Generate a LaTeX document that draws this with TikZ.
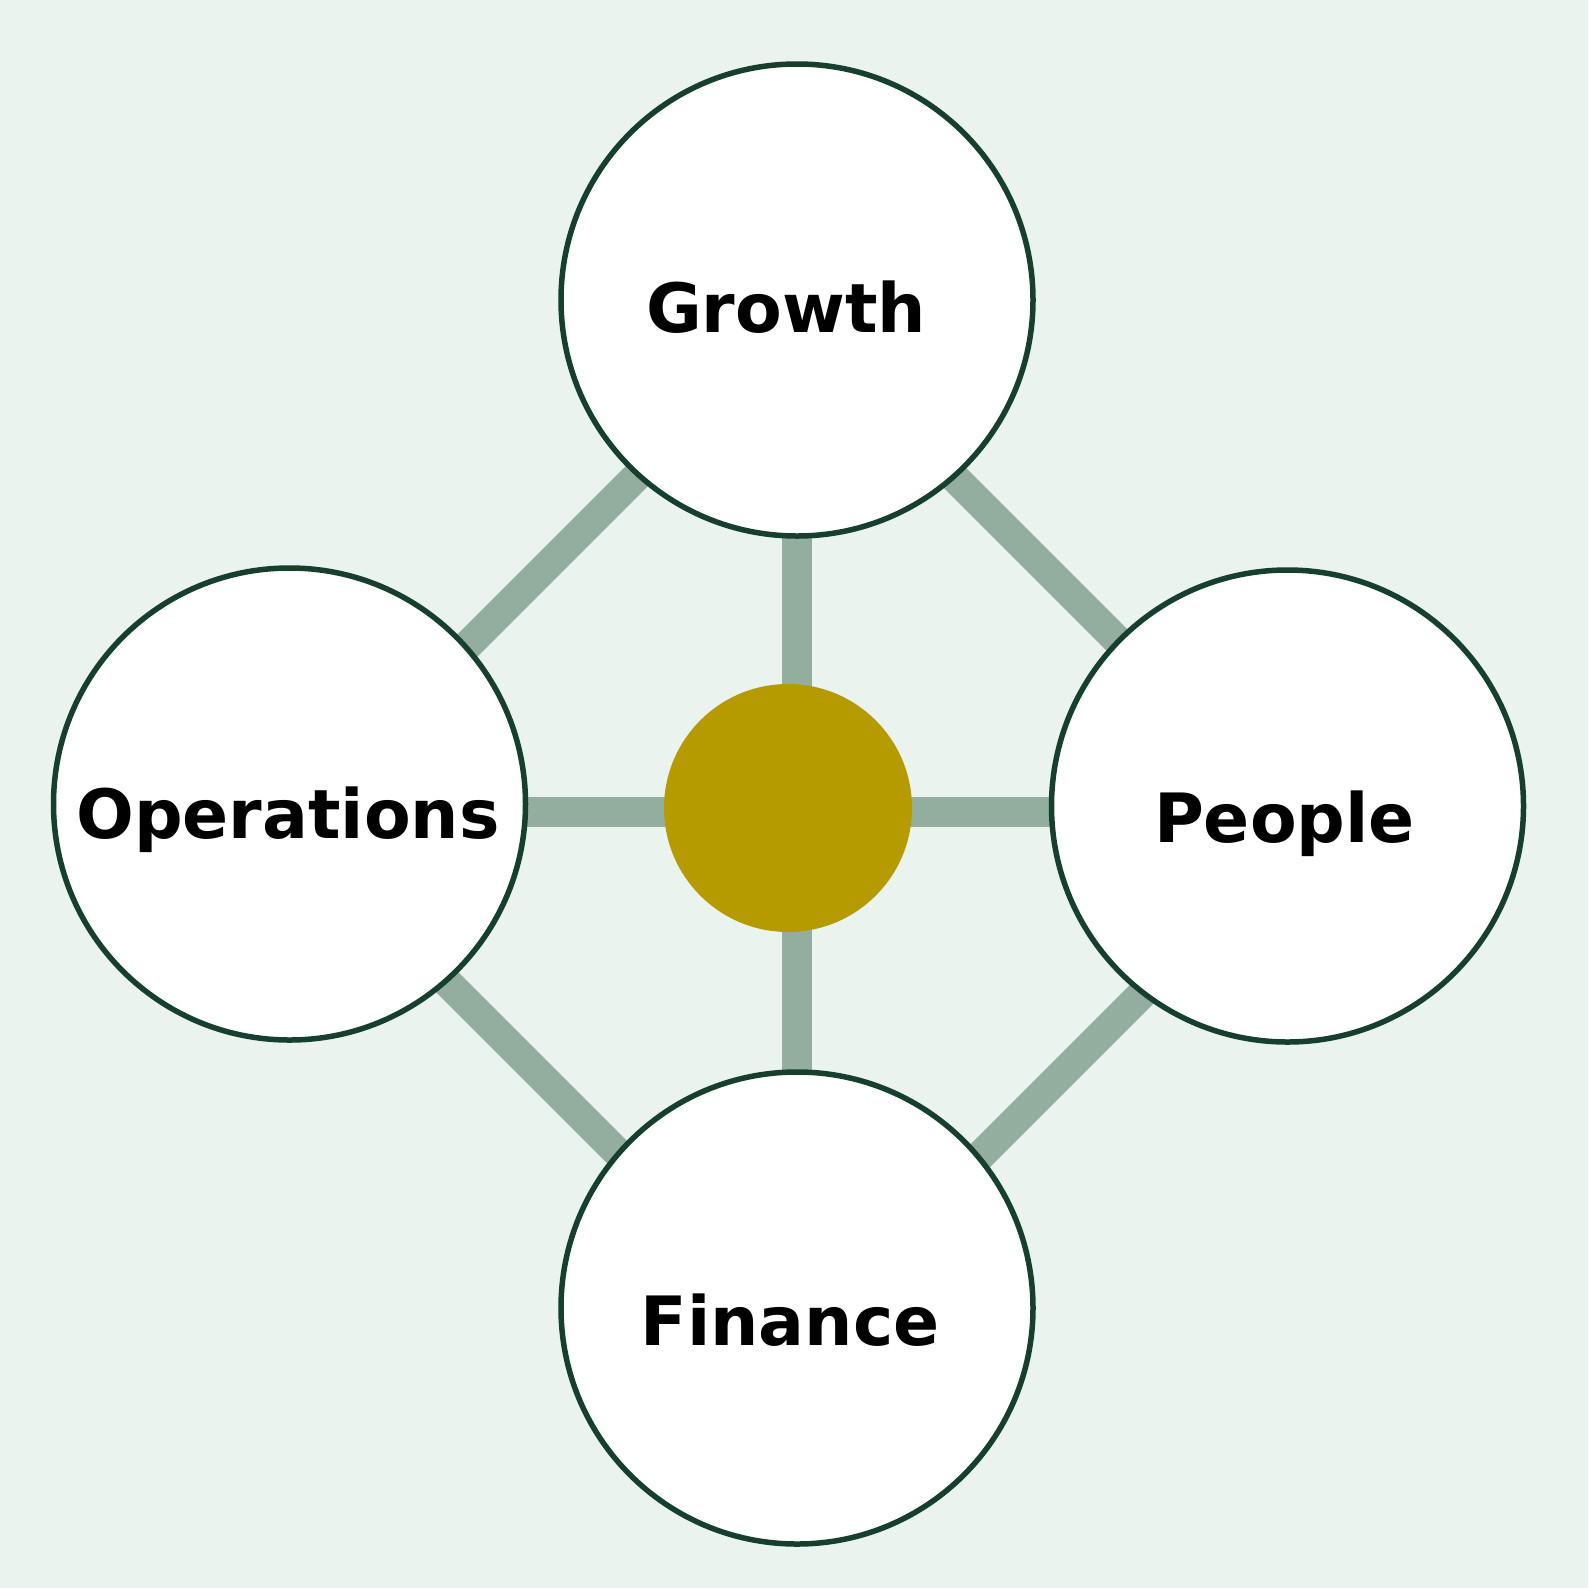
\documentclass[tikz,border=0pt]{standalone}
\usepackage{fontspec}
\setmainfont{DejaVu Sans}
\usetikzlibrary{backgrounds}
\definecolor{bgc}{HTML}{EAF3EE}
\definecolor{ringc}{HTML}{173F2E}
\definecolor{linkc}{HTML}{93AD9F}
\definecolor{hubc}{HTML}{B59A00}
\pgfdeclarelayer{bottom}
\pgfsetlayers{bottom,background,main}
\tikzset{
  topic/.style={circle, draw=ringc, line width=5.5pt, fill=white, minimum size=472pt, inner sep=0pt},
  label/.style={font=\fontsize{68}{78}\selectfont\bfseries, text=black, inner sep=0pt, anchor=base},
  hub/.style={circle, fill=hubc, draw=none, minimum size=248pt, inner sep=0pt},
  link/.style={draw=linkc, line width=30pt}
}
\begin{document}
\begin{tikzpicture}[x=1pt,y=-1pt]
\begin{pgfonlayer}{bottom}
\fill[bgc] (0,0) rectangle (1588,1588);
\end{pgfonlayer}
\useasboundingbox (0,0) rectangle (1588,1588);
\node[topic] (g) at (797,300) {};
\node[topic] (o) at (289.5,804) {};
\node[topic] (p) at (1287.5,806) {};
\node[topic] (f) at (797,1308) {};
\node[hub] (h) at (788,808) {};
\node[label] (gt) at (786,332) {Growth};
\node[label] (ot) at (288,838) {Operations};
\node[label] (pt) at (1284.5,842) {People};
\node[label] (ft) at (790,1345) {Finance};
\begin{pgfonlayer}{background}
\draw[link] ([shift={(0,16)}]g.center) -- ([shift={(0,19.5)}]o.center);
\draw[link] ([shift={(0,20)}]g.center) -- ([shift={(0,4.5)}]p.center);
\draw[link] ([shift={(0,20.5)}]o.center) -- ([shift={(0,24)}]f.center);
\draw[link] ([shift={(0,42.5)}]p.center) -- ([shift={(0,31)}]f.center);
\draw[link] ([shift={(-0.5,0)}]g.center) -- ([shift={(-0.5,0)}]f.center);
\draw[link] ([shift={(0,8)}]o.center) -- ([shift={(0,6)}]p.center);
\end{pgfonlayer}
\end{tikzpicture}
\end{document}
